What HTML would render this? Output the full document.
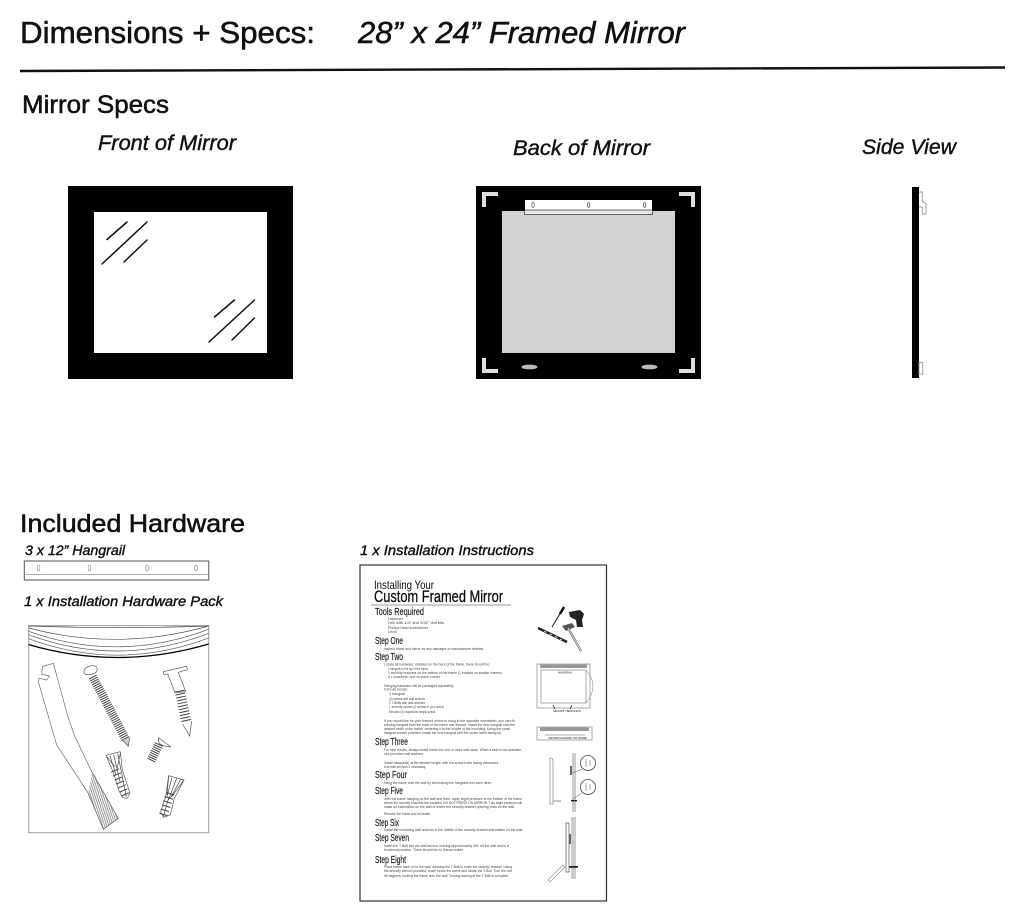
<!DOCTYPE html>
<html>
<head>
<meta charset="utf-8">
<title>Dimensions + Specs</title>
<style>
html,body{margin:0;padding:0;background:#fff;width:1024px;height:921px;overflow:hidden}
svg{display:block}
text{font-family:"Liberation Sans",sans-serif;fill:#111}
.t{stroke:#111;stroke-width:.55px}
.i{stroke:#111;stroke-width:.4px}
.b{font-size:3.7px;fill:#444}
.h{font-size:10.5px;fill:#222;stroke:#222;stroke-width:.2px}
</style>
</head>
<body>
<svg xmlns="http://www.w3.org/2000/svg" width="1024" height="921" viewBox="0 0 1024 921">
<defs>
<filter id="s" x="-5%" y="-5%" width="110%" height="110%"><feGaussianBlur stdDeviation="0.35"/></filter>
<filter id="s2" x="-5%" y="-5%" width="110%" height="110%"><feGaussianBlur stdDeviation="0.25"/></filter>
<pattern id="hp" width="6" height="6" patternUnits="userSpaceOnUse" patternTransform="rotate(-18)"><line x1="3" y1="0" x2="3" y2="6" stroke="#555" stroke-width="1.8"/></pattern>
</defs>
<rect width="1024" height="921" fill="#fff"/>

<!-- Header -->
<text class="t" x="20" y="43" font-size="31" textLength="295" lengthAdjust="spacingAndGlyphs">Dimensions + Specs:</text>
<text class="t" x="358" y="43" font-size="31" font-style="italic" textLength="327" lengthAdjust="spacingAndGlyphs">28” x 24” Framed Mirror</text>
<line x1="20" y1="71" x2="1005" y2="67.5" stroke="#111" stroke-width="2.4"/>
<text class="t" x="22" y="113" font-size="25" textLength="147" lengthAdjust="spacingAndGlyphs">Mirror Specs</text>
<text class="i" x="98" y="150" font-size="21" font-style="italic" textLength="138" lengthAdjust="spacingAndGlyphs">Front of Mirror</text>
<text class="i" x="513" y="155" font-size="21" font-style="italic" textLength="137" lengthAdjust="spacingAndGlyphs">Back of Mirror</text>
<text class="i" x="862" y="154" font-size="21" font-style="italic" textLength="94" lengthAdjust="spacingAndGlyphs">Side View</text>

<!-- Front -->
<rect x="68" y="186" width="225" height="193" fill="#000"/>
<rect x="94" y="212" width="173" height="141" fill="#fff"/>
<g stroke="#111" stroke-width="1.5" stroke-linecap="round">
<line x1="107" y1="239.5" x2="127" y2="222"/>
<line x1="102" y1="264" x2="147" y2="222"/>
<line x1="124" y1="262" x2="147" y2="240"/>
<line x1="214.5" y1="317" x2="234.5" y2="300"/>
<line x1="209" y1="342" x2="254.5" y2="300"/>
<line x1="232" y1="340" x2="254.5" y2="318"/>
</g>

<!-- Back -->
<rect x="476" y="186" width="225" height="193" fill="#000"/>
<rect x="502" y="211" width="173" height="142" fill="#d0d2d3"/>
<rect x="525" y="200" width="127" height="14" fill="#fff"/>
<rect x="524.5" y="210" width="128" height="4.5" fill="#e8e8e8" stroke="#333" stroke-width=".7"/>
<g fill="none" stroke="#555" stroke-width=".7">
<ellipse cx="533" cy="205" rx="1.2" ry="2.5"/>
<ellipse cx="588.5" cy="205" rx="1.2" ry="2.5"/>
<ellipse cx="644.5" cy="205" rx="1.2" ry="2.5"/>
</g>
<g fill="#dedede">
<path d="M482 192h16v4h-12v11h-4z"/>
<path d="M695 192h-16v4h12v11h4z"/>
<path d="M482 358h4v11h12v4h-16z"/>
<path d="M695 358h-4v11h-12v4h16z"/>
<ellipse cx="529.5" cy="367" rx="8" ry="2.4" fill="#bbb"/>
<ellipse cx="649.5" cy="367" rx="8" ry="2.4" fill="#bbb"/>
</g>

<!-- Side -->
<rect x="912" y="187" width="7" height="191" fill="#000"/>
<path d="M919 192h3.3v9.7l3.7 1.6V214h-3.7v-6.7l-3.3-.6" fill="#fff" stroke="#999" stroke-width=".9"/>
<rect x="919" y="362.3" width="3.7" height="11.7" fill="#fff" stroke="#999" stroke-width=".9"/>

<!-- Hardware -->
<text class="t" x="20" y="532" font-size="25" textLength="225" lengthAdjust="spacingAndGlyphs">Included Hardware</text>
<text class="i" x="25" y="555" font-size="14" font-style="italic" textLength="100" lengthAdjust="spacingAndGlyphs">3 x 12” Hangrail</text>
<rect x="24.3" y="561" width="184.5" height="19" fill="#fff" stroke="#555" stroke-width="1"/>
<line x1="24.3" y1="574.5" x2="208.8" y2="574.5" stroke="#999" stroke-width=".8"/>
<g fill="none" stroke="#999" stroke-width=".8">
<ellipse cx="38.5" cy="568" rx="1.3" ry="3"/>
<ellipse cx="89.5" cy="568" rx="1.3" ry="3"/>
<ellipse cx="147" cy="568" rx="1.3" ry="3"/>
<ellipse cx="196" cy="568" rx="1.3" ry="3"/>
</g>
<text class="i" x="24" y="606" font-size="14" font-style="italic" textLength="199" lengthAdjust="spacingAndGlyphs">1 x Installation Hardware Pack</text>
<text class="i" x="360" y="555" font-size="14" font-style="italic" textLength="174" lengthAdjust="spacingAndGlyphs">1 x Installation Instructions</text>

<!-- Bag -->
<g transform="translate(15 540) scale(.33333)" fill="none" stroke="#555" stroke-width="2" filter="url(#s2)">
<rect x="41" y="257" width="540" height="621" stroke="#aaa" stroke-width="3.5"/>
<path d="M41 258Q310 268 581 258" stroke="#444"/>
<path d="M41 264Q310 335 581 258"/>
<path d="M41 274Q310 370 581 268"/>
<path d="M41 284Q310 384 581 280"/>
<path d="M41 296Q310 396 581 294"/>
<path d="M41 314Q310 392 581 312" stroke="#000" stroke-width="4"/>
<!-- bracket -->
<path d="M82 380L115 370 160 535 180 590 230 695 310 835 265 868 220 760 125 615 70 425 72 415 95 420 103 408 80 402Z" stroke="#666" stroke-width="2"/>
<path d="M233 695L310 835 265 868 219 762Z" fill="url(#hp)" stroke="none"/>
<!-- screw 1 -->
<path d="M207 398C205 385 222 374 240 378 250 382 247 392 242 398 232 403 212 408 207 398Z" fill="#fff"/>
<line x1="233" y1="410" x2="332" y2="598" stroke="#444" stroke-width="26" stroke-dasharray="3 3.5"/>
<path d="M322 600L340 619 344 592" stroke="#555" fill="#ccc"/>
<!-- t-bolt -->
<path d="M445 395L515 379 517 389 490 397 512 455 480 458 458 402 447 404Z" fill="#fff"/>
<line x1="494" y1="452" x2="515" y2="548" stroke="#444" stroke-width="30" stroke-dasharray="3 6"/>
<path d="M503 552L524 588 530 543" fill="#fff"/>
<!-- small screw -->
<path d="M430 593L468 621 445 617 432 610Z" fill="#fff"/>
<line x1="432" y1="612" x2="407" y2="665" stroke="#444" stroke-width="27" stroke-dasharray="3 3.5"/>
<!-- anchor 1 -->
<path d="M273 646L316 635 322 690 345 760 336 776 322 772 312 752 296 700Z" fill="#fff"/>
<path d="M285 648L303 705M296 645L315 725M308 640L334 770M275 650L300 680M316 640L305 690" stroke="#444"/>
<line x1="300" y1="690" x2="333" y2="770" stroke="#444" stroke-width="26" stroke-dasharray="3 10"/>
<!-- anchor 2 -->
<path d="M461 707L507 720 478 775 466 825 445 832 437 815 452 770Z" fill="#fff"/>
<path d="M471 712L456 770M485 715L460 780M497 718L466 775M461 707L456 765M507 720L470 770M462 770L445 830" stroke="#444"/>
<line x1="466" y1="760" x2="445" y2="825" stroke="#444" stroke-width="26" stroke-dasharray="3 10"/>
</g>

<!-- Instructions -->
<rect x="360" y="565" width="246.5" height="336" fill="#fff" stroke="#333" stroke-width="1.2"/>
<g filter="url(#s)">
<text x="374" y="589" font-size="12" fill="#222" textLength="60" lengthAdjust="spacingAndGlyphs">Installing Your</text>
<text x="374" y="602" font-size="17" fill="#111" stroke="#111" stroke-width=".3" textLength="129" lengthAdjust="spacingAndGlyphs">Custom Framed Mirror</text>
<line x1="371" y1="605" x2="511" y2="605" stroke="#777" stroke-width=".8"/>
<text class="h" x="375" y="615" textLength="49" lengthAdjust="spacingAndGlyphs">Tools Required</text>
<text class="b" x="388" y="620" textLength="15" lengthAdjust="spacingAndGlyphs">Hammer</text>
<text class="b" x="388" y="624" textLength="56" lengthAdjust="spacingAndGlyphs">Drill with 1/4" and 5/32" drill bits</text>
<text class="b" x="388" y="629" textLength="40" lengthAdjust="spacingAndGlyphs">Phillips head screwdriver</text>
<text class="b" x="388" y="633" textLength="9" lengthAdjust="spacingAndGlyphs">Level</text>
<text class="h" x="375" y="644" textLength="28" lengthAdjust="spacingAndGlyphs">Step One</text>
<text class="b" x="384" y="650" textLength="100" lengthAdjust="spacingAndGlyphs">Inspect frame and mirror for any damages or manufacturer defects.</text>
<text class="h" x="375" y="660" textLength="28" lengthAdjust="spacingAndGlyphs">Step Two</text>
<text class="b" x="384" y="665.5" textLength="106" lengthAdjust="spacingAndGlyphs">Locate all hardware: Installed on the back of the frame, there should be:</text>
<text class="b" x="388" y="670" textLength="40" lengthAdjust="spacingAndGlyphs">1 hangrail on the top of the frame</text>
<text class="b" x="388" y="674" textLength="114" lengthAdjust="spacingAndGlyphs">2 security brackets on the bottom of the frame (1 bracket on smaller frames)</text>
<text class="b" x="388" y="678" textLength="52" lengthAdjust="spacingAndGlyphs">4 L-brackets, one on each corner</text>
<text class="b" x="384" y="687" textLength="70" lengthAdjust="spacingAndGlyphs">Hanging hardware will be packaged separately.</text>
<text class="b" x="384" y="690.5" textLength="24" lengthAdjust="spacingAndGlyphs">It should include:</text>
<text class="b" x="389" y="695" textLength="16" lengthAdjust="spacingAndGlyphs">1 hangrail</text>
<text class="b" x="389" y="700" textLength="36" lengthAdjust="spacingAndGlyphs">(2) screws with wall anchors</text>
<text class="b" x="389" y="704" textLength="36" lengthAdjust="spacingAndGlyphs">2 T-Bolts with wall anchors</text>
<text class="b" x="389" y="708" textLength="55" lengthAdjust="spacingAndGlyphs">1 security screws (2 screws if you order)</text>
<text class="b" x="389" y="713" textLength="46" lengthAdjust="spacingAndGlyphs">Extra set of (2) hangrails and hangrail screws</text>
<text class="b" x="384" y="722" textLength="131" lengthAdjust="spacingAndGlyphs">If you would like for your framed mirror to hang in the opposite orientation, you can fix</text>
<text class="b" x="384" y="726" textLength="131" lengthAdjust="spacingAndGlyphs">existing hangrail from the back of the frame and discard. Install the new hangrail onto the</text>
<text class="b" x="384" y="730" textLength="126" lengthAdjust="spacingAndGlyphs">desired width of the frame, centering it to the middle of the moulding. Using the small</text>
<text class="b" x="384" y="734" textLength="118" lengthAdjust="spacingAndGlyphs">hangrail screws provided, install the new hangrail with the screw holes facing up.</text>
<text class="h" x="375" y="745" textLength="33" lengthAdjust="spacingAndGlyphs">Step Three</text>
<text class="b" x="384" y="751" textLength="138" lengthAdjust="spacingAndGlyphs">For best results, always install frame into one or more wall studs. When a stud is not available,</text>
<text class="b" x="384" y="755" textLength="40" lengthAdjust="spacingAndGlyphs">use provided wall anchors.</text>
<text class="b" x="384" y="764" textLength="115" lengthAdjust="spacingAndGlyphs">Install hangrail(s) at the desired height, with the screw holes facing downward.</text>
<text class="b" x="384" y="768" textLength="42" lengthAdjust="spacingAndGlyphs">Use wall anchors if necessary.</text>
<text class="h" x="375" y="778" textLength="32" lengthAdjust="spacingAndGlyphs">Step Four</text>
<text class="b" x="384" y="784" textLength="108" lengthAdjust="spacingAndGlyphs">Hang the frame onto the wall by interlocking the hangrails into each other.</text>
<text class="h" x="375" y="794" textLength="28" lengthAdjust="spacingAndGlyphs">Step Five</text>
<text class="b" x="384" y="800" textLength="138" lengthAdjust="spacingAndGlyphs">With the frame hanging on the wall and level, apply slight pressure to the bottom of the frame</text>
<text class="b" x="384" y="804" textLength="138" lengthAdjust="spacingAndGlyphs">where the security brackets are installed. DO NOT PRESS ON MIRROR. This slight pressure will</text>
<text class="b" x="384" y="808" textLength="131" lengthAdjust="spacingAndGlyphs">make an indentation on the wall of where the security bracket opening rests on the wall.</text>
<text class="b" x="384" y="815" textLength="47" lengthAdjust="spacingAndGlyphs">Remove the frame and set aside.</text>
<text class="h" x="375" y="826" textLength="24" lengthAdjust="spacingAndGlyphs">Step Six</text>
<text class="b" x="384" y="831" textLength="139" lengthAdjust="spacingAndGlyphs">Install the remaining wall anchors in the middle of the security bracket indentation on the wall.</text>
<text class="h" x="375" y="841" textLength="34" lengthAdjust="spacingAndGlyphs">Step Seven</text>
<text class="b" x="384" y="847" textLength="125" lengthAdjust="spacingAndGlyphs">Insert the T-Bolt into the wall anchor, leaving approximately 3/8" off the wall and in a</text>
<text class="b" x="384" y="851" textLength="80" lengthAdjust="spacingAndGlyphs">functional position. There should be no thread visible.</text>
<text class="h" x="375" y="863" textLength="31" lengthAdjust="spacingAndGlyphs">Step Eight</text>
<text class="b" x="384" y="868" textLength="128" lengthAdjust="spacingAndGlyphs">Place frame back on to the wall, allowing the T-Bolt to enter the security bracket. Using</text>
<text class="b" x="384" y="872" textLength="128" lengthAdjust="spacingAndGlyphs">the security wrench provided, reach below the frame and locate the T-Bolt. Turn the bolt</text>
<text class="b" x="384" y="877" textLength="125" lengthAdjust="spacingAndGlyphs">90 degrees, locking the frame onto the wall. Turning locking of the T-Bolt is complete.</text>

<!-- Tools -->
<line x1="564" y1="607" x2="552" y2="627" stroke="#222" stroke-width="1.1"/>
<line x1="564" y1="607" x2="560" y2="614" stroke="#111" stroke-width="2.4"/>
<path d="M569 612L580 610 584 614 582 620 583 627 577 627 576 620 570 617Z" fill="#222"/>
<line x1="538" y1="628" x2="567" y2="642" stroke="#222" stroke-width="2.6"/>
<line x1="544" y1="631" x2="562" y2="640" stroke="#ddd" stroke-width=".9" stroke-dasharray="3 3"/>
<path d="M562 626L572 623 575 627 566 631Z" fill="#555"/>
<line x1="568" y1="628" x2="581" y2="651" stroke="#666" stroke-width="2.2"/>
<line x1="568" y1="628" x2="581" y2="651" stroke="#ddd" stroke-width=".9"/>

<!-- Diagram 1 -->
<rect x="537" y="664" width="53" height="44" fill="none" stroke="#888" stroke-width=".7"/>
<rect x="540" y="664.5" width="47" height="3.5" fill="#999"/>
<rect x="541" y="670" width="45" height="33" fill="#fff" stroke="#555" stroke-width=".5"/>
<text x="558" y="673.5" font-size="2.8" fill="#444">HANGRAIL</text>
<path d="M586 670Q600 686 586 703" fill="none" stroke="#777" stroke-width=".5"/>
<text x="553" y="712" font-size="2.6" fill="#444">SECURITY BRACKETS</text>
<path d="M553 705l2 4M572 705l-2 4" stroke="#222" stroke-width=".8"/>

<!-- Diagram 2 -->
<rect x="537" y="727" width="55" height="13" fill="none" stroke="#888" stroke-width=".7"/>
<rect x="540" y="727.5" width="49" height="3.5" fill="#999"/>
<line x1="545" y1="735" x2="585" y2="735" stroke="#555" stroke-width=".6"/>
<text x="548" y="739" font-size="2.6" fill="#444">CENTER HANGRAIL ON FRAME</text>

<!-- Side diagrams -->
<rect x="572" y="753" width="4" height="59" fill="#ccc"/>
<path d="M550 758h2l1 3v43h-3z" fill="#fff" stroke="#777" stroke-width=".6"/>
<path d="M553 801h8" stroke="#444" stroke-width=".6"/>
<rect x="570" y="766" width="2" height="9" fill="#666"/>
<rect x="571" y="800" width="6" height="1.4" fill="#222"/>
<circle cx="588" cy="763" r="7.5" fill="#fff" stroke="#444" stroke-width=".8"/>
<circle cx="588" cy="787" r="7.5" fill="#fff" stroke="#444" stroke-width=".8"/>
<path d="M586 759v8M590 760v6M586 783v8M590 784v6" stroke="#888" stroke-width=".8"/>
<path d="M582 769l-9 4M582 793l-9 6" stroke="#444" stroke-width=".5"/>
<rect x="571" y="817" width="5" height="62" fill="#ccc"/>
<rect x="566" y="823" width="3" height="49" fill="#fff" stroke="#555" stroke-width=".7"/>
<rect x="569" y="834" width="2" height="10" fill="#666"/>
<rect x="569" y="866" width="9" height="1.8" fill="#222"/>
<path d="M548 880l15-15 2 2-15 15z" fill="#fff" stroke="#888" stroke-width=".6"/>
</g>
</svg>
</body>
</html>
